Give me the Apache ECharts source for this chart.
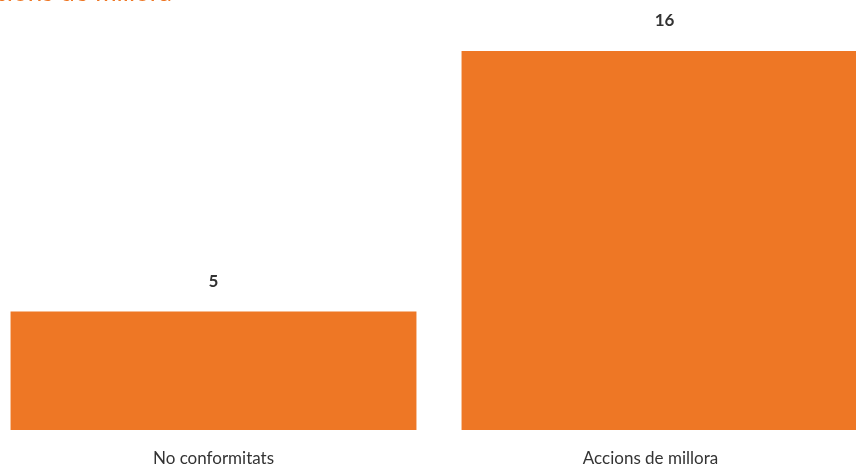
<!DOCTYPE html>
<html>
<head>
<meta charset="utf-8">
<script src="https://cdn.jsdelivr.net/npm/echarts@6/dist/echarts.min.js"></script>
<style>
  html, body { margin: 0; padding: 0; background: #fff; }
  #chart { width: 856px; height: 468px; }
</style>
</head>
<body>
<div id="chart"></div>
<script>
// dades
var categories = ['No conformitats', 'Accions de millora'];
var values = [5, 16];

var myChart = echarts.init(document.getElementById('chart'));
var option = {
    backgroundColor: '#ffffff',
    animation: false,
    title: {
        text: 'Accions de millora',
        left: -40,
        top: -25,
        textStyle: { color: '#EE7725', fontSize: 26, fontWeight: 'normal', fontFamily: 'Lato' }
    },
    grid: { left: -12, width: 902, top: 51, bottom: 38, containLabel: false, outerBoundsMode: 'none' },
    xAxis: {
        type: 'category',
        data: [
            categories[0],
            { value: categories[1], textStyle: { padding: [0, 28, 0, 0] } }
        ],
        axisLine: { show: false },
        axisTick: { show: false },
        axisLabel: { color: '#333', fontSize: 17, fontFamily: 'Lato', margin: 20 }
    },
    yAxis: {
        type: 'value',
        min: 0,
        max: 16,
        show: false,
        splitLine: { show: false }
    },
    series: [{
        type: 'bar',
        data: values,
        barCategoryGap: '10%',
        itemStyle: { color: '#EE7725' },
        label: {
            show: true,
            position: 'top',
            distance: 22,
            color: '#333',
            fontSize: 17,
            fontWeight: 'bold',
            fontFamily: 'Lato'
        }
    }]
};
myChart.setOption(option);
</script>
</body>
</html>
